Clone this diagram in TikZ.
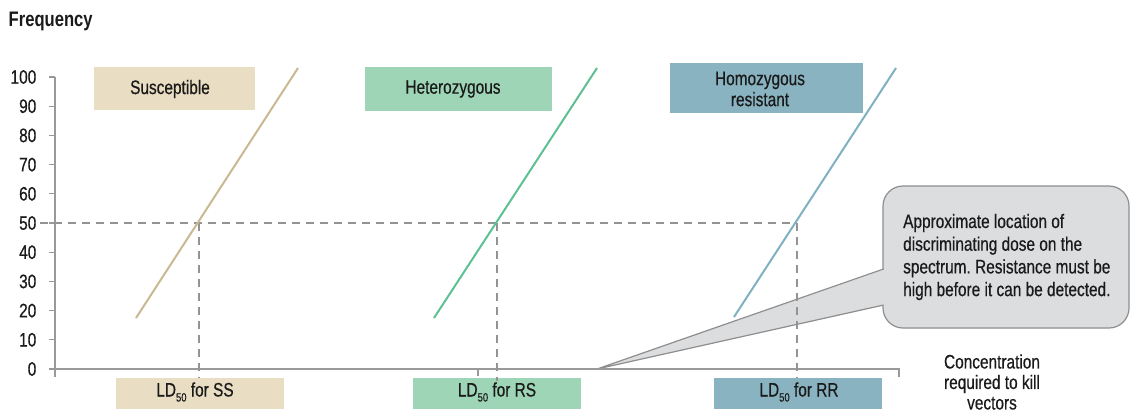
\documentclass[tikz,border=0pt]{standalone}
\usepackage{fontspec}
\usetikzlibrary{calc}
\setmainfont[FakeStretch=0.79, UprightFeatures={FakeBold=0.5}]{Liberation Sans}
\frenchspacing
\definecolor{ssbox}{HTML}{E9DDC3}
\definecolor{ssline}{HTML}{C9B992}
\definecolor{rsbox}{HTML}{9ED5B6}
\definecolor{rsline}{HTML}{5CC092}
\definecolor{rrbox}{HTML}{89B3C1}
\definecolor{rrline}{HTML}{7FB1C0}
\definecolor{guide}{HTML}{939393}
\definecolor{axisc}{HTML}{999999}
\definecolor{notefill}{HTML}{DCDDDF}
\definecolor{noteedge}{HTML}{8E8E8E}
\definecolor{ink}{HTML}{1A1A1A}
\newcommand{\ldfifty}{LD{\fontsize{12}{12}\selectfont\raisebox{-5pt}{50}}}
\tikzset{
  panel/.style={draw=none, inner sep=0pt},
  word/.style={text=ink, inner sep=0pt, align=center},
  curve/.style={line width=2pt},
  guideline/.style={draw=guide, line width=2.2pt, dash pattern=on 8pt off 6pt},
  axisline/.style={draw=axisc, line width=1.2pt},
}
\begin{document}
\begin{tikzpicture}[x=1pt, y=-1pt, font=\fontsize{19.5}{21}\selectfont]
\useasboundingbox (0,0) rectangle (1130,413);

% callout with its pointer
\node[panel, fill=notefill, draw=noteedge, line width=1.2pt, rounded corners=20pt,
      minimum width=246pt, minimum height=142pt] (note) at (1006,257) {};
\coordinate (tip) at (597,369);
\coordinate (pa) at (883.6,269);
\coordinate (pb) at (883.6,305);
\fill[notefill] (tip) -- ($(pa)+(2,0)$) -- ($(pb)+(2,0)$) -- cycle;
\draw[noteedge, line width=1.2pt] (pa) -- (tip) -- (pb);
\node[word, align=left, anchor=west, font=\fontsize{19.5}{22.7}\selectfont] (notetext) at (903,257)
  {Approximate location of\\discriminating dose on the\\spectrum. Resistance must be\\high before it can be detected.};

% axes
\coordinate (ytop) at (55,77);
\coordinate (ybot) at (55,377);
\coordinate (origin) at (55,369);
\coordinate (xend) at (899,369);
\draw[axisline] (ytop) -- (ybot);
\draw[axisline] (origin) -- (xend) -- ++(0,8);
\draw[axisline] (478,369) -- ++(0,7);
\foreach \v in {0,10,...,100} {
  \draw[axisline] (49,369-2.92*\v) -- (55,369-2.92*\v);
  \node[word, anchor=east] (tick\v) at (36.5,369-2.92*\v) {\v};
}
\node[word, anchor=west, font=\fontsize{21}{21}\selectfont\bfseries] (ylabel) at (8.5,21) {Frequency};
\node[word, font=\fontsize{19.5}{20.5}\selectfont] (xlabel) at (992,382) {Concentration\\required to kill\\vectors};

% 50 % guides
\coordinate (cs) at (199,223);
\coordinate (cr) at (497,223);
\coordinate (cq) at (797,223);
\draw[guideline] (40,223) -- (cq);

% LD50 labels
\node[panel, fill=ssbox, minimum width=168pt, minimum height=31pt] (ldss) at (200,393.5) {};
\node[panel, fill=rsbox, minimum width=168pt, minimum height=31pt] (ldrs) at (497,393.5) {};
\node[panel, fill=rrbox, minimum width=168pt, minimum height=31pt] (ldrr) at (798,393.5) {};
\draw[guideline] (cs) -- (199,378);
\draw[guideline] (cr) -- (497,381);
\draw[guideline] (cq) -- (797,378);
\node[word] at (195,392) {\ldfifty{} for SS};
\node[word] at (497,392) {\ldfifty{} for RS};
\node[word] at (799,392) {\ldfifty{} for RR};

% dose-response lines
\draw[curve, ssline] (136,318) -- (298,68);
\draw[curve, rsline] (434,318) -- (597,68);
\draw[curve, rrline] (734,317) -- (896,68);

% genotype boxes
\node[panel, fill=ssbox, minimum width=161pt, minimum height=43pt] (ssbox) at (174.5,88.5) {};
\node[word] (sstext) at (170,89) {Susceptible};
\node[panel, fill=rsbox, minimum width=187pt, minimum height=44pt] (rsbox) at (458.5,89) {};
\node[word] (rstext) at (453,89) {Heterozygous};
\node[panel, fill=rrbox, minimum width=193pt, minimum height=50pt] (rrbox) at (766.5,88) {};
\node[word] (rrtext) at (760,89) {Homozygous\\resistant};
\end{tikzpicture}
\end{document}
